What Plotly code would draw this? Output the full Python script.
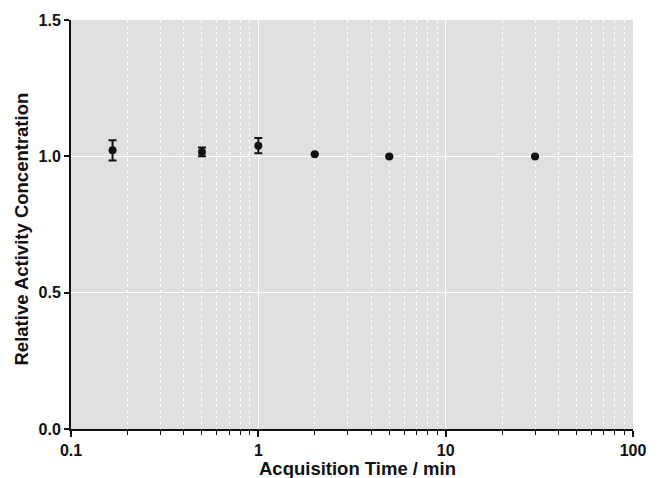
import plotly.graph_objects as go

acq_time = [1/6, 0.5, 1, 2, 5, 30]
rel_conc = [1.022, 1.016, 1.039, 1.008, 0.999, 0.999]
rel_err = [0.037, 0.016, 0.028, 0.0, 0.0, 0.0]

x_ticks = [0.1, 1, 10, 100]
x_tick_text = ["0.1", "1", "10", "100"]
y_ticks = [0.0, 0.5, 1.0, 1.5]
y_tick_text = ["0.0", "0.5", "1.0", "1.5"]
x_title = "Acquisition Time / min"
y_title = "Relative Activity Concentration"

minor_x = [m * d for d in (0.1, 1, 10) for m in range(2, 10)]

fig = go.Figure()
fig.add_trace(go.Scatter(
    x=acq_time, y=rel_conc, mode="markers",
    marker=dict(color="#111111", size=8),
    error_y=dict(type="data", array=rel_err, visible=True, color="#111111",
                 thickness=2, width=4),
    showlegend=False,
))

font_family = "Liberation Sans, Arial, sans-serif"
title_font = dict(size=18.5, family=font_family, weight="bold", color="#111111")
fig.update_layout(
    width=662, height=478,
    margin=dict(l=71, r=29, t=20, b=49),
    paper_bgcolor="white", plot_bgcolor="#e0e0e0",
    font=dict(family=font_family, color="#111111"),
    annotations=[
        dict(text=x_title, xref="paper", yref="paper", x=0.5, y=0,
             xanchor="center", yanchor="top", xshift=5, yshift=-27,
             showarrow=False, font=title_font),
        dict(text=y_title, xref="paper", yref="paper", x=0, y=0.5,
             xanchor="center", yanchor="middle", xshift=-50, yshift=-5,
             textangle=-90, showarrow=False, font=title_font),
    ],
)
fig.update_xaxes(
    type="log", range=[-1, 2], automargin=False,
    tickvals=x_ticks, ticktext=x_tick_text,
    tickfont=dict(size=16, family=font_family, weight="bold"),
    ticks="outside", ticklen=6, tickwidth=1.5, tickcolor="#111111",
    showline=True, linecolor="#111111", linewidth=1.5,
    showgrid=True, gridcolor="white", gridwidth=1,
    zeroline=False,
    minor=dict(tickvals=minor_x, ticks="outside", ticklen=4, tickwidth=1, tickcolor="#111111",
               showgrid=True, gridcolor="white", griddash="dot", gridwidth=1),
)
fig.update_yaxes(
    range=[0, 1.5], automargin=False,
    tickvals=y_ticks, ticktext=y_tick_text,
    tickfont=dict(size=16, family=font_family, weight="bold"),
    ticks="outside", ticklen=5, tickwidth=1.5, tickcolor="#111111",
    showline=True, linecolor="#111111", linewidth=2,
    showgrid=True, gridcolor="white", gridwidth=1,
    zeroline=False,
)
fig.write_html("out.html")
